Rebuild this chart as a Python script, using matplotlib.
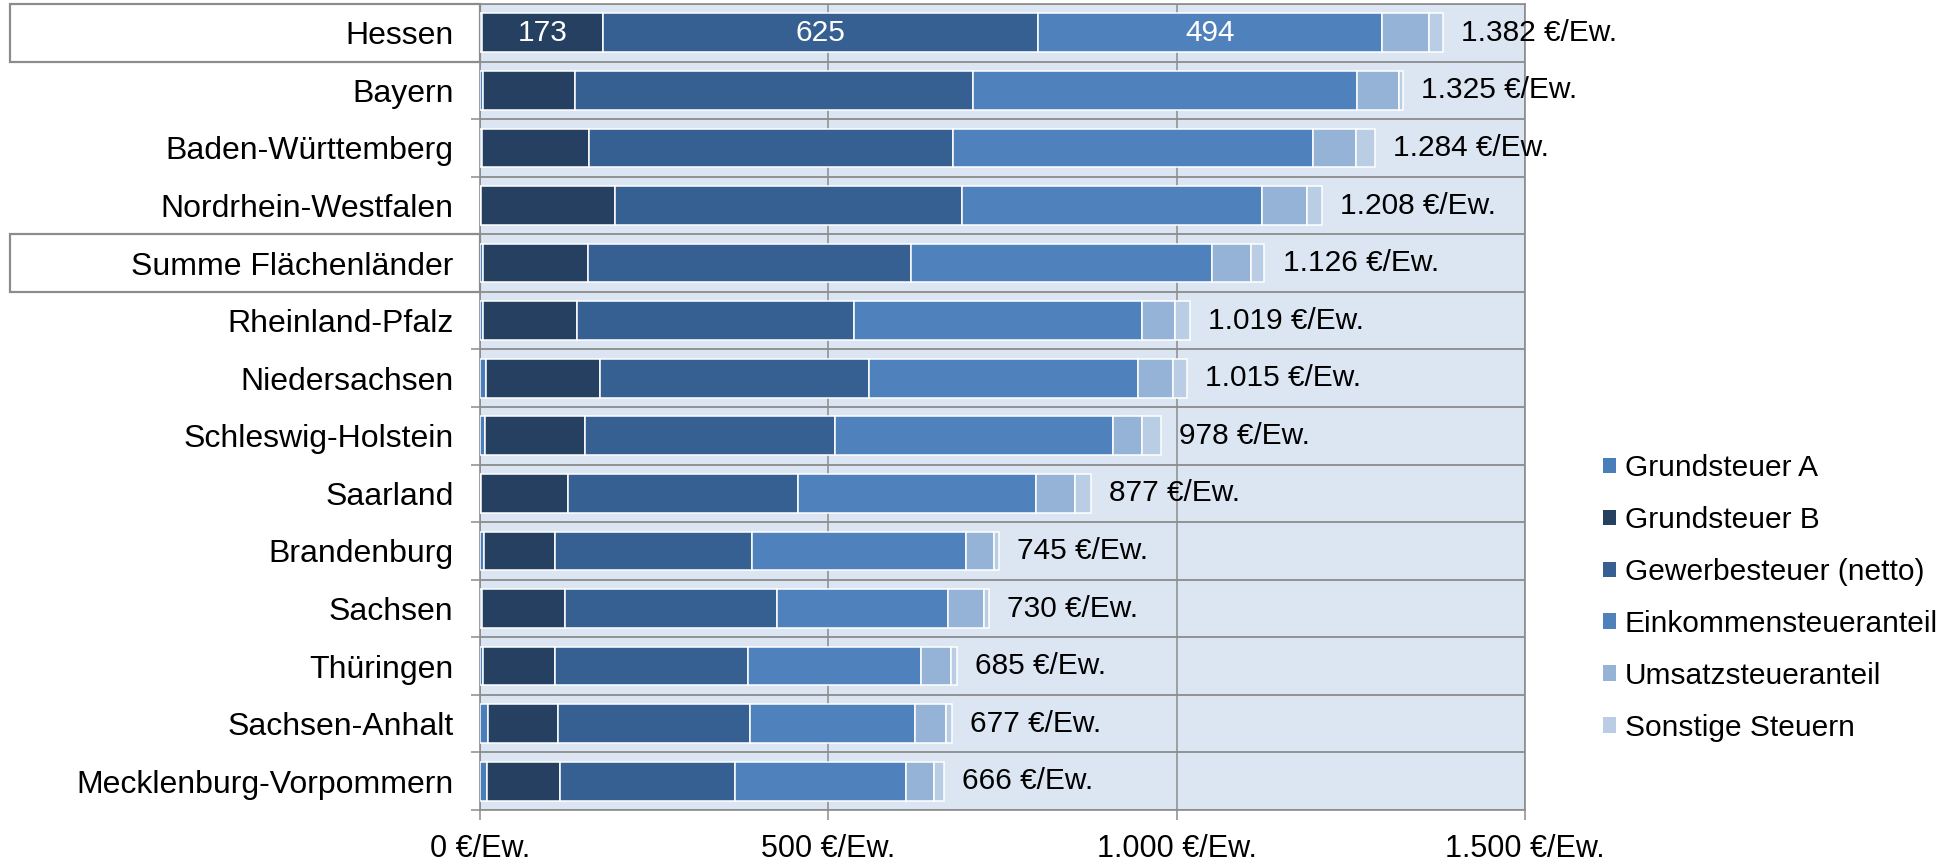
import matplotlib
matplotlib.use("Agg")
import matplotlib.pyplot as plt
import matplotlib.transforms as mtransforms
from matplotlib.patches import Patch, Rectangle
import numpy as np

plt.rcParams['font.family'] = ['Liberation Sans', 'DejaVu Sans']

laender = ["Hessen", "Bayern", "Baden-Württemberg", "Nordrhein-Westfalen",
           "Summe Flächenländer", "Rheinland-Pfalz", "Niedersachsen",
           "Schleswig-Holstein", "Saarland", "Brandenburg", "Sachsen",
           "Thüringen", "Sachsen-Anhalt", "Mecklenburg-Vorpommern"]

# Euro je Einwohner
grundsteuer_a = [3, 5, 3, 2, 4, 4, 9, 7, 2, 6, 3, 5, 11, 10]
grundsteuer_b = [173, 132, 154, 192, 151, 135, 163, 143, 125, 102, 119, 102, 101, 105]
gewerbesteuer = [625, 570, 522, 498, 464, 398, 387, 359, 330, 282, 304, 277, 275, 251]
einkommensteuer = [494, 552, 517, 431, 432, 413, 386, 399, 341, 308, 246, 249, 237, 246]
umsatzsteuer = [67, 60, 61, 64, 56, 47, 50, 42, 56, 40, 51, 43, 45, 40]
sonstige = [20, 6, 27, 21, 19, 22, 20, 28, 23, 7, 7, 9, 8, 14]
gesamt = [1382, 1325, 1284, 1208, 1126, 1019, 1015, 978, 877, 745, 730, 685, 677, 666]

serien = ["Grundsteuer A", "Grundsteuer B", "Gewerbesteuer (netto)",
          "Einkommensteueranteil", "Umsatzsteueranteil", "Sonstige Steuern"]
farben = ["#4A7EBB", "#254061", "#376092", "#4F81BD", "#95B3D7", "#B9CDE5"]
xticks = [0, 500, 1000, 1500]
hervorgehoben = ["Hessen", "Summe Flächenländer"]

def fmt(v):
    return f"{v:,}".replace(",", ".") + " €/Ew."

FS = 21.5
grau = "#8C8C8C"

fig = plt.figure(figsize=(19.41, 8.63), dpi=100)
ax = fig.add_axes([480 / 1941, 1 - 810 / 863, 1045 / 1941, 806 / 863])
ax.set_facecolor("#DCE6F2")

y = np.arange(len(laender))
werte = [grundsteuer_a, grundsteuer_b, gewerbesteuer, einkommensteuer, umsatzsteuer, sonstige]
links = np.zeros(len(laender))
container = []
for name, vals, col in zip(serien, werte, farben):
    c = ax.barh(y, vals, left=links, height=0.67, color=col,
                edgecolor="white", linewidth=1.1, label=name, zorder=3)
    container.append(c)
    links += np.array(vals)

# Werte im Balken nur fuer Hessen
for i in (1, 2, 3):
    labels = [str(werte[i][0])] + [""] * (len(laender) - 1)
    ax.bar_label(container[i], labels=labels, label_type="center",
                 color="white", fontsize=FS, zorder=4)

for yi, tot in zip(y, gesamt):
    ax.annotate(fmt(tot), xy=(tot, yi), xytext=(13, 0), textcoords="offset points",
                va="center", ha="left", fontsize=FS, zorder=4)

ax.set_xlim(0, 1500)
ax.set_ylim(len(laender) - 0.5, -0.5)
ax.set_xticks(xticks)
ax.set_xticklabels([fmt(v) for v in xticks], fontsize=22)
ax.tick_params(axis="x", length=7, width=1.1, color=grau, pad=10)

ax.set_yticks(np.arange(-0.5, len(laender), 1.0))
ax.set_yticklabels([])
ax.tick_params(axis="y", which="major", length=6.5, width=1.1, color=grau)
ax.set_yticks(y, minor=True)
ax.set_yticklabels(laender, minor=True, fontsize=23)
ax.tick_params(axis="y", which="minor", length=0, pad=19)

ax.grid(axis="x", color=grau, linewidth=1.1)
ax.grid(axis="y", which="major", color=grau, linewidth=1.3)
ax.set_axisbelow(True)
for s in ax.spines.values():
    s.set_color(grau)
    s.set_linewidth(1.2)

# Rahmen um hervorgehobene Beschriftungen
trans = mtransforms.blended_transform_factory(ax.transAxes, ax.transData)
x0 = (10 - 480) / 1045
for name in hervorgehoben:
    i = laender.index(name)
    ax.add_patch(Rectangle((x0, i - 0.5), -x0, 1.0, transform=trans,
                           fill=False, edgecolor=grau, linewidth=1.6, clip_on=False))

handles = [Patch(facecolor=c, edgecolor="none") for c in farben]
fig.legend(handles, serien, loc="center left",
           bbox_to_anchor=(1603 / 1941, 1 - 598 / 863), frameon=False,
           fontsize=FS, handlelength=0.43, handleheight=0.43,
           handletextpad=0.3, labelspacing=0.8, borderpad=0, borderaxespad=0)

fig.savefig("out.png", dpi=100)
